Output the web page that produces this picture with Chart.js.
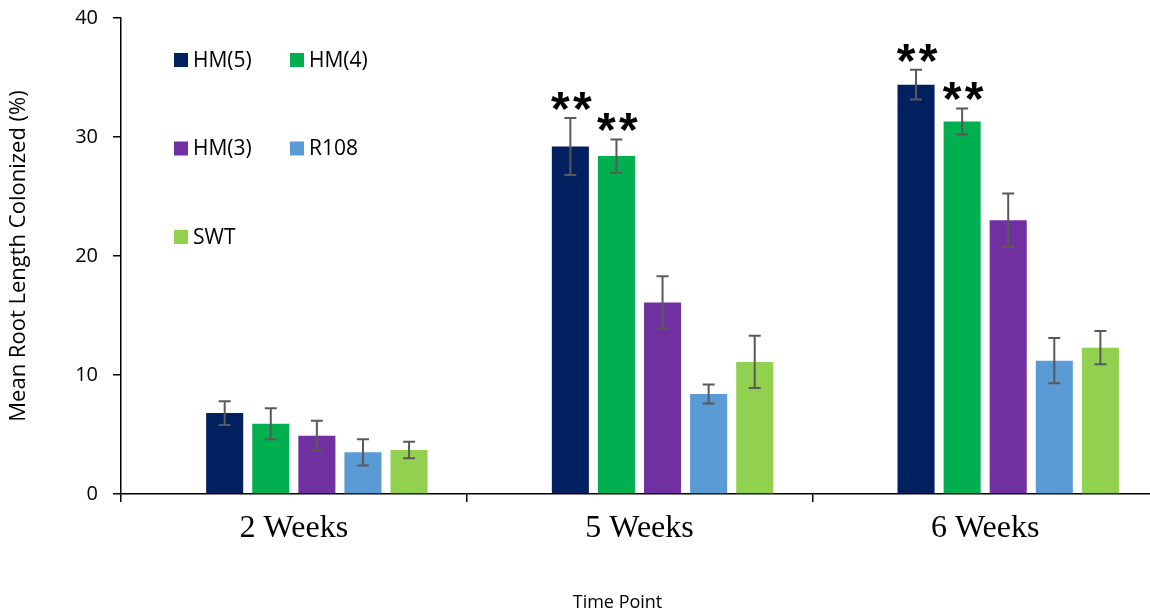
<!DOCTYPE html>
<html>
<head>
<meta charset="utf-8">
<script src="https://cdn.jsdelivr.net/npm/chart.js@4.4.1/dist/chart.umd.min.js"></script>
<style>
  html, body { margin: 0; padding: 0; background: #fff; overflow: hidden; }
  #wrap { width: 1158px; height: 616px; position: relative; }
</style>
</head>
<body>
<div id="wrap"><canvas id="rootChart"></canvas></div>
<script>
const timePoints = ["2 Weeks", "5 Weeks", "6 Weeks"];
const seriesNames = ["HM(5)", "HM(4)", "HM(3)", "R108", "SWT"];
const seriesColors = ["#002060", "#00B050", "#7030A0", "#5B9BD5", "#92D050"];

const hm5 = [6.8, 29.2, 34.4];
const hm4 = [5.9, 28.4, 31.3];
const hm3 = [4.9, 16.1, 23.0];
const r108 = [3.5, 8.4, 11.2];
const swt = [3.7, 11.1, 12.3];

const hm5Err = [1.0, 2.4, 1.25];
const hm4Err = [1.3, 1.4, 1.1];
const hm3Err = [1.25, 2.2, 2.25];
const r108Err = [1.1, 0.8, 1.9];
const swtErr = [0.7, 2.2, 1.4];

const hm5Sig = ["", "**", "**"];
const hm4Sig = ["", "**", "**"];

const yTicks = [0, 10, 20, 30, 40];
const xTitle = "Time Point";

const values = [hm5, hm4, hm3, r108, swt];
const errors = [hm5Err, hm4Err, hm3Err, r108Err, swtErr];
const marks = [hm5Sig, hm4Sig, [], [], []];

// the original has an empty first slot in each group, so keep one blank series
const datasets = [{ label: "", data: timePoints.map(() => null), backgroundColor: "rgba(0,0,0,0)" }];
seriesNames.forEach((name, i) => {
  datasets.push({
    label: name,
    data: values[i],
    backgroundColor: seriesColors[i],
    borderWidth: 0,
    errors: errors[i],
    marks: marks[i],
  });
});

const errorBars = {
  id: "errorBars",
  afterDatasetsDraw(chart) {
    const ctx = chart.ctx;
    const y = chart.scales.y;
    chart.data.datasets.forEach((ds, i) => {
      if (!ds.errors) return;
      const meta = chart.getDatasetMeta(i);
      meta.data.forEach((bar, j) => {
        const v = ds.data[j];
        const e = ds.errors[j];
        const top = y.getPixelForValue(v + e);
        const bot = y.getPixelForValue(v - e);
        ctx.save();
        ctx.strokeStyle = "#595959";
        ctx.lineWidth = 2;
        ctx.beginPath();
        ctx.moveTo(bar.x, top);
        ctx.lineTo(bar.x, bot);
        ctx.moveTo(bar.x - 6, top);
        ctx.lineTo(bar.x + 6, top);
        ctx.moveTo(bar.x - 6, bot);
        ctx.lineTo(bar.x + 6, bot);
        ctx.stroke();

        const m = ds.marks && ds.marks[j];
        if (m) {
          const fs = 48;
          ctx.fillStyle = "#000";
          ctx.font = "bold " + fs + "px 'Liberation Sans'";
          ctx.textAlign = "center";
          ctx.textBaseline = "alphabetic";
          const baseY = top - 21 + 0.58 * fs;
          const n = m.length;
          for (let k = 0; k < n; k++) {
            ctx.fillText("*", bar.x + 1 + (k - (n - 1) / 2) * 22, baseY);
          }
        }
        ctx.restore();
      });
    });
  },
};

const cornerLegend = {
  id: "cornerLegend",
  afterDraw(chart) {
    const ctx = chart.ctx;
    const area = chart.chartArea;
    const x0 = area.left + 53;
    const y0 = area.top + 42;
    ctx.save();
    ctx.font = "21px 'Open Sans'";
    ctx.textBaseline = "middle";
    ctx.textAlign = "left";
    seriesNames.forEach((name, i) => {
      const col = i % 2;
      const row = Math.floor(i / 2);
      const x = x0 + col * 116;
      const cy = y0 + row * 88.5;
      ctx.fillStyle = seriesColors[i];
      ctx.fillRect(x, cy - 7, 14, 14);
      ctx.fillStyle = "#000";
      ctx.fillText(name, x + 19, cy + 1);
    });
    // axis title, centred on the whole frame like the original
    ctx.font = "18px 'Open Sans'";
    ctx.textAlign = "center";
    ctx.fillText(xTitle, (area.left + area.right) / 2 - 22, chart.height - 13);
    ctx.restore();
  },
};

new Chart(document.getElementById("rootChart"), {
  type: "bar",
  data: { labels: timePoints, datasets: datasets },
  plugins: [errorBars, cornerLegend],
  options: {
    maintainAspectRatio: false,
    animation: false,
    layout: { padding: { top: 18, right: 0, left: 0, bottom: 0 } },
    datasets: {
      bar: { categoryPercentage: 0.8, barPercentage: 0.804 },
    },
    plugins: {
      legend: { display: false },
      tooltip: { enabled: false },
    },
    scales: {
      x: {
        grid: {
          offset: true,
          drawOnChartArea: false,
          drawTicks: true,
          tickLength: 8,
          color: "#000",
          lineWidth: 1.5,
        },
        border: { color: "#000", width: 1.5 },
        ticks: {
          color: "#000",
          padding: 7,
          font: { family: "'Liberation Serif'", size: 32 },
        },
        afterFit(s) { s.height = 122; },
      },
      y: {
        min: 0,
        max: 40,
        afterBuildTicks(s) { s.ticks = yTicks.map(v => ({ value: v })); },
        grid: {
          drawOnChartArea: false,
          drawTicks: true,
          tickLength: 8,
          color: "#000",
          lineWidth: 1.5,
        },
        border: { color: "#000", width: 1.5 },
        ticks: {
          color: "#000",
          padding: 15,
          font: { family: "'Open Sans'", size: 20 },
        },
        title: {
          display: true,
          text: "Mean Root Length Colonized (%)",
          color: "#000",
          font: { family: "'Open Sans'", size: 22 },
          padding: { top: 6, bottom: 0 },
        },
        afterFit(s) {
          s.width = 121;
          s.paddingTop = 0;
          s.paddingBottom = 0;
        },
      },
    },
  },
});
</script>
</body>
</html>
